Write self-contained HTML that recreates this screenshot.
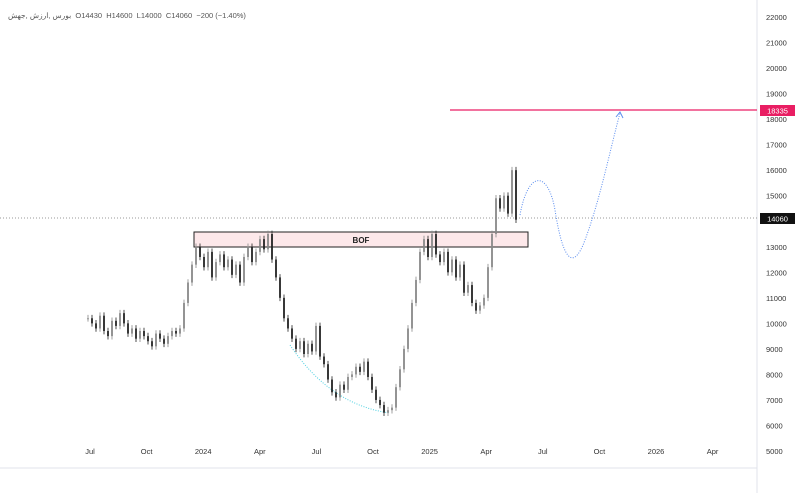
<!DOCTYPE html>
<html><head><meta charset="utf-8"><style>
body{margin:0;background:#fff;font-family:"Liberation Sans",sans-serif}
svg text{font-family:"Liberation Sans","Noto Sans CJK SC",sans-serif}
</style></head><body>
<svg width="800" height="493" viewBox="0 0 800 493">
<rect width="800" height="493" fill="#fff"/>
<line x1="757" y1="0" x2="757" y2="493" stroke="#e0e3eb"/>
<line x1="0" y1="468" x2="757" y2="468" stroke="#e0e3eb"/>
<text x="8" y="18" font-size="7.5" fill="#555">بورس ,ارزش ,جهش&#160; O14430&#160; H14600&#160; L14000&#160; C14060&#160; −200 (−1.40%)</text>
<g id="yaxis"></g><g id="xaxis"></g>
<line x1="0" y1="218" x2="757" y2="218" stroke="#999" stroke-dasharray="1,2"/>
<path d="M290 345 Q330 405 390 413" fill="none" stroke="#4dd0e1" stroke-dasharray="1,1.5"/>
<rect x="194" y="232" width="334" height="15" fill="#fde8ea" stroke="#222"/>
<text x="361" y="243" font-size="8" font-weight="bold" text-anchor="middle" fill="#222">BOF</text>
<g id="candles"></g>
<path d="M520 215 C528 170 548 170 555 210 C562 255 572 275 585 240 C600 200 610 150 620 113" fill="none" stroke="#5b8def" stroke-dasharray="1,1.5"/>
<path d="M616 117 L620 112 L623 118" fill="none" stroke="#5b8def"/>
<line x1="450" y1="110" x2="757" y2="110" stroke="#e91e63" stroke-width="1.2"/>
<rect x="760" y="105" width="35" height="11" fill="#e91e63"/>
<text x="777.5" y="113.5" font-size="7.5" fill="#fff" text-anchor="middle">18335</text>
<rect x="760" y="213" width="35" height="11" fill="#111"/>
<text x="777.5" y="221.5" font-size="7.5" fill="#fff" text-anchor="middle">14060</text>
</svg>
<script>
const closes=[10200,10000,9800,10300,9700,9500,10100,9900,10400,10000,9600,9800,9400,9700,9500,9300,9100,9600,9400,9200,9500,9700,9600,9800,
10800,11600,12300,13000,
12600,12200,12800,11800,12400,12700,12200,12500,11900,12300,11600,12600,13000,12400,12800,13300,12900,13500,
12500,11800,11000,10200,9800,9400,9000,9300,
8800,9200,8900,9900,8700,8400,7800,7300,7100,
7600,7400,7900,8000,8300,8100,8500,7900,7400,
7000,6800,6500,6600,6700,
7500,8200,9000,9800,10800,11700,
12800,13300,12600,13500,12700,
12400,12800,12000,12500,11800,12300,11200,11500,
10800,10500,10700,11000,
12200,13500,14900,14500,15000,14300,16000,14060];
const yTicks=[22000,21000,20000,19000,18000,17000,16000,15000,14000,13000,12000,11000,10000,9000,8000,7000,6000,5000];
const xLabels=["Jul","Oct","2024","Apr","Jul","Oct","2025","Apr","Jul","Oct","2026","Apr"];
const xLabelIdx=[0,1,2,3,4,5,6,7,8,9,10,11];
const NS="http://www.w3.org/2000/svg";
const y=v=>17+(22000-v)*0.02553;
const xl=i=>90+i*56.6;
const xc=i=>88+i*4;
const ya=document.getElementById('yaxis');
yTicks.forEach(v=>{if(v===14000)return;const t=document.createElementNS(NS,'text');
t.setAttribute('x',766);t.setAttribute('y',y(v)+3);t.setAttribute('font-size','7.5');t.setAttribute('fill','#333');


t.textContent=v;ya.appendChild(t);});
const xa=document.getElementById('xaxis');
xLabels.forEach((s,k)=>{const t=document.createElementNS(NS,'text');
t.setAttribute('x',xl(xLabelIdx[k]));t.setAttribute('y',454);t.setAttribute('font-size','7.5');t.setAttribute('fill','#333');t.setAttribute('text-anchor','middle');


t.textContent=s;xa.appendChild(t);});
const cg=document.getElementById('candles');
closes.forEach((c,i)=>{const o=i?closes[i-1]:c;const hi=Math.max(o,c)+130,lo=Math.min(o,c)-130;
const col=c>=o?'#888':'#222';
const w=document.createElementNS(NS,'line');
w.setAttribute('x1',xc(i));w.setAttribute('x2',xc(i));w.setAttribute('y1',y(hi));w.setAttribute('y2',y(lo));w.setAttribute('stroke',col);w.setAttribute('stroke-width','0.8');


cg.appendChild(w);
const r=document.createElementNS(NS,'rect');
r.setAttribute('x',xc(i)-0.9);r.setAttribute('width',1.8);r.setAttribute('y',y(Math.max(o,c)));r.setAttribute('height',Math.max(1,Math.abs(y(o)-y(c))));r.setAttribute('fill',col);


cg.appendChild(r);});
</script>
</body></html>
